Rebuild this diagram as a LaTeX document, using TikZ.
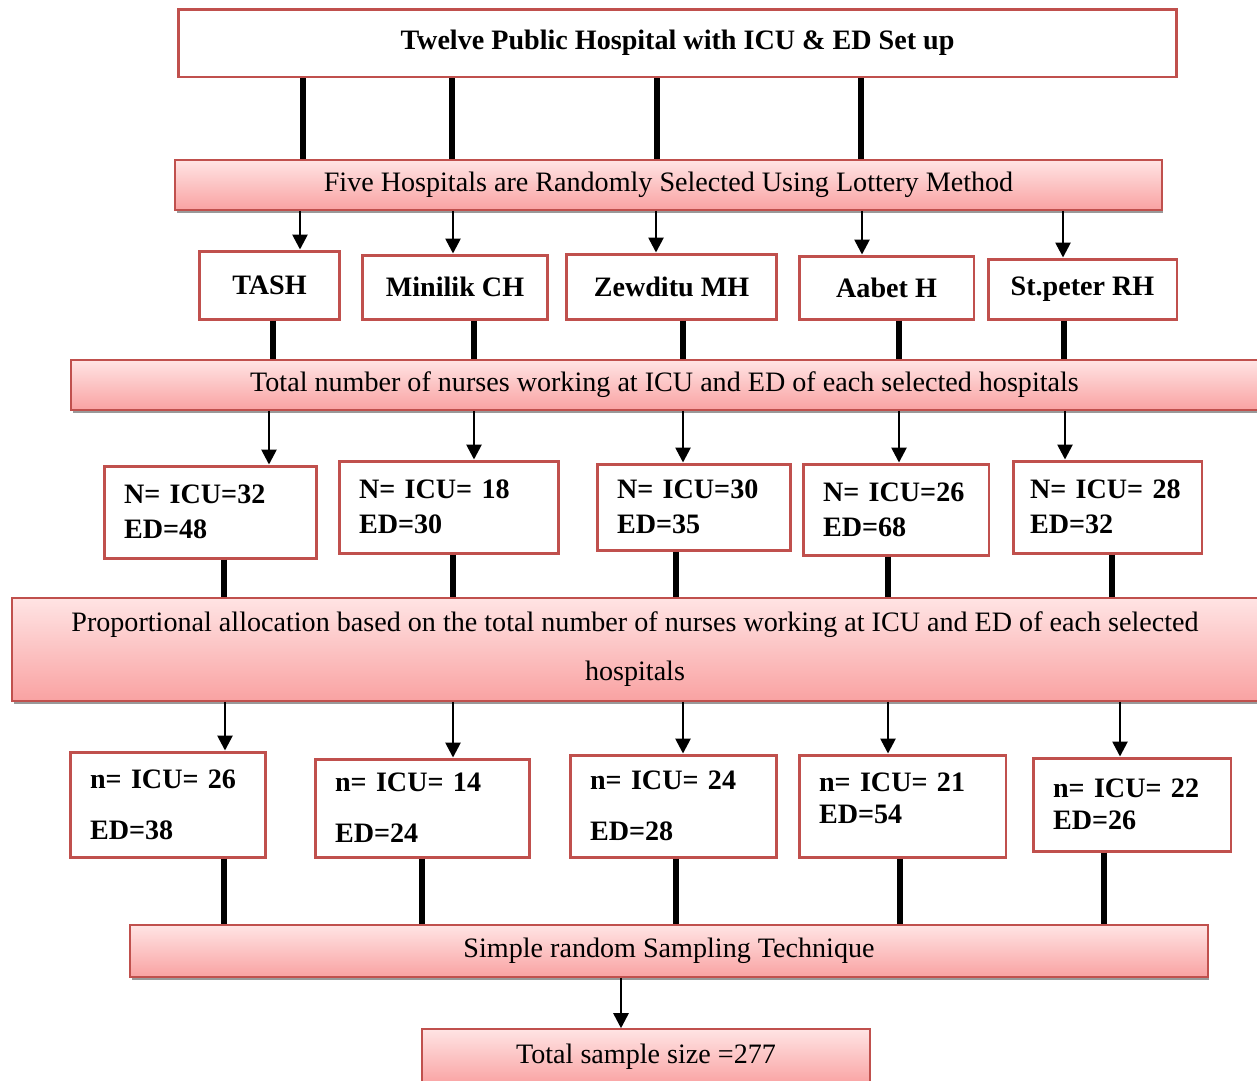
\documentclass[tikz,border=0pt]{standalone}
\usepackage{fontspec}
\setmainfont{Liberation Serif}
\usetikzlibrary{arrows.meta,shadows}
\definecolor{boxred}{HTML}{C0504D}
\definecolor{bandtop}{HTML}{FFE4E4}
\definecolor{bandbot}{HTML}{F9A2A2}
\begin{document}
\begin{tikzpicture}[x=0.02cm,y=-0.02cm,
  hbox/.style={draw=boxred, line width=1.7pt, fill=white, inner sep=0pt, font=\fontsize{16}{19}\selectfont\bfseries},
  band/.style={draw=boxred, line width=0.9pt, top color=bandtop, bottom color=bandbot, inner sep=0pt, align=center, font=\fontsize{16}{19}\selectfont, drop shadow={shadow xshift=0.03cm, shadow yshift=-0.06cm, fill=black!40, opacity=1}},
  nbox/.style={hbox, inner xsep=0.4cm, align=left, font=\fontsize{16}{19.9}\selectfont\bfseries},
  bar/.style={line width=3.2pt},
  arr/.style={line width=1.5pt, -{Triangle[length=0.3cm,width=0.3cm]}}]
\useasboundingbox (0,0) rectangle (1257,1080);
\node[hbox, minimum width=19.98cm, minimum height=1.36cm] (twelve) at (677.5,43) {Twelve Public Hospital with ICU \& ED Set up};
\node[band, minimum width=19.74cm, minimum height=1cm] (select) at (668.5,185) {Five Hospitals are Randomly Selected Using Lottery Method};
\node[hbox, minimum width=2.82cm, minimum height=1.36cm] (tash) at (269.5,285) {TASH};
\node[hbox, minimum width=3.72cm, minimum height=1.28cm] (minilik) at (455,287) {Minilik CH};
\node[hbox, minimum width=4.22cm, minimum height=1.3cm] (zewditu) at (671.5,286.5) {Zewditu MH};
\node[hbox, minimum width=3.5cm, minimum height=1.26cm] (aabet) at (886.5,287.5) {Aabet H};
\node[hbox, minimum width=3.78cm, minimum height=1.2cm] (peter) at (1082.5,289) {St.peter RH};
\node[band, minimum width=23.74cm, minimum height=1cm] (total) at (664.5,385) {Total number of nurses working at ICU and ED of each selected hospitals};
\node[nbox, text width=3.46cm, minimum height=1.84cm] (Ntash) at (210.5,512) {N= ICU=32\\ED=48};
\node[nbox, text width=3.6cm, minimum height=1.84cm] (Nminilik) at (449,507) {N= ICU= 18\\ED=30};
\node[nbox, text width=3.08cm, minimum height=1.72cm] (Nzewditu) at (694,507) {N= ICU=30\\ED=35};
\node[nbox, text width=2.92cm, minimum height=1.82cm] (Naabet) at (896,509.5) {N= ICU=26\\ED=68};
\node[nbox, text width=3.1cm, inner xsep=0.34cm, minimum height=1.84cm] (Npeter) at (1107.5,507) {N= ICU= 28\\ED=32};
\node[band, minimum width=24.92cm, minimum height=2.06cm] (alloc) at (635,649.5) {Proportional allocation based on the total number of nurses working at ICU and ED of each selected\\[8.9pt]hospitals};
\node[nbox, text width=3.12cm, minimum height=2.1cm] (ntash) at (168,804.5) {n= ICU= 26\\[9pt]ED=38};
\node[nbox, text width=3.5cm, minimum height=1.96cm] (nminilik) at (422.5,808) {n= ICU= 14\\[9pt]ED=24};
\node[nbox, text width=3.34cm, minimum height=2.04cm] (nzewditu) at (673.5,806) {n= ICU= 24\\[9pt]ED=28};
\node[nbox, text width=3.34cm, text depth=27pt, minimum height=2.04cm] (naabet) at (902.5,806) {n= ICU= 21\\[-1.8pt]ED=54};
\node[nbox, text width=3.16cm, minimum height=1.86cm] (npeter) at (1132,804.5) {n= ICU= 22\\[-1.8pt]ED=26};
\node[band, minimum width=21.56cm, minimum height=1.04cm] (simple) at (669,951) {Simple random Sampling Technique};
\node[band, minimum width=8.96cm, minimum height=1.12cm] (sample) at (646,1057) {Total sample size =277};
\foreach \x in {303,452,657,861}
  \draw[bar] (twelve.south -| \x,0) -- (select.north -| \x,0);
\foreach \b/\x in {tash/300,minilik/453,zewditu/656,aabet/862,peter/1063}
  \draw[arr] (select.south -| \x,0) -- (\b.north -| \x,0);
\foreach \a/\x in {tash/273,minilik/474,zewditu/683,aabet/899,peter/1064}
  \draw[bar] (\a.south -| \x,0) -- (total.north -| \x,0);
\foreach \b/\x in {Ntash/269,Nminilik/474,Nzewditu/683,Naabet/899,Npeter/1065}
  \draw[arr] (total.south -| \x,0) -- (\b.north -| \x,0);
\foreach \a/\x in {Ntash/224,Nminilik/453,Nzewditu/676,Naabet/888,Npeter/1112}
  \draw[bar] (\a.south -| \x,0) -- (alloc.north -| \x,0);
\foreach \b/\x in {ntash/225,nminilik/453,nzewditu/683,naabet/888,npeter/1120}
  \draw[arr] (alloc.south -| \x,0) -- (\b.north -| \x,0);
\foreach \a/\x in {ntash/224,nminilik/422,nzewditu/676,naabet/900,npeter/1104}
  \draw[bar] (\a.south -| \x,0) -- (simple.north -| \x,0);
\draw[arr] (simple.south -| 621,0) -- (sample.north -| 621,0);
\end{tikzpicture}
\end{document}
